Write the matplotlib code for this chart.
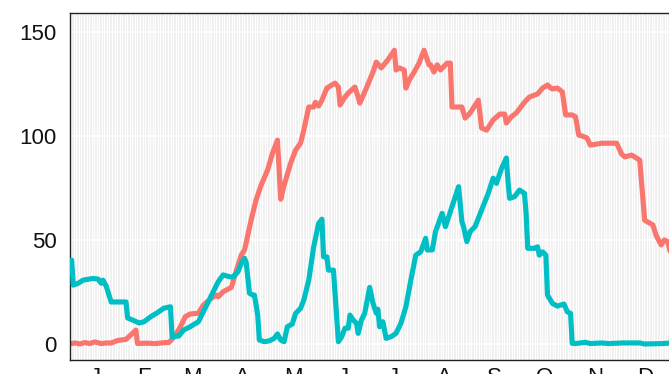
import numpy as np
import matplotlib.pyplot as plt

# day-of-year / value pairs for the two series
red_day = [1, 3, 6, 9, 12, 15, 19, 22, 25, 29, 34, 39, 40, 41, 46, 52, 58,
           60, 61, 64, 67, 70, 73, 78, 81, 86, 89, 90, 93, 98, 101, 104, 106,
           110, 113, 116, 120, 123, 126, 128, 130, 134, 137, 140, 142, 145,
           148, 149, 151, 153, 156, 157, 161, 163, 164, 167, 169, 173, 175,
           176, 180, 184, 186, 189, 193, 197, 198, 200, 203, 204, 206, 209,
           212, 215, 218, 219, 221, 223, 225, 229, 231, 232, 235, 238, 240,
           243, 248, 250, 253, 257, 261, 264, 265, 268, 271, 276, 279, 284,
           287, 290, 292, 293, 296, 299, 301, 305, 307, 309, 311, 314, 316,
           323, 332, 335, 337, 341, 343, 346, 348, 349, 354, 356, 359, 361,
           363, 365]
red_val = [0, 0.3, -0.2, 0.5, 0, 0.8, 0, 0.3, 0.3, 1.5, 2.0, 5.7, 6.5, 0,
           0.2, 0, 0.5, 0.5, 1.3, 4, 8, 12.9, 14.2, 14.6, 18.5, 21.9, 23.3,
           22.5, 24.9, 27, 35, 42.5, 45, 59.4, 69, 76, 83.4, 91.6, 97.8, 69.4,
           76, 86.7, 93, 96.3, 102.6, 113.7, 113.7, 116, 114.2, 117, 122.8,
           123.3, 125.2, 123.3, 114.7, 118.5, 120.4, 123.3, 118.5, 115.6,
           122.8, 130.5, 135.3, 132.5, 136.3, 141, 131.5, 132.5, 131.5, 122.8,
           126.6, 130.5, 134.8, 141, 134, 134, 130.5, 134, 131.5, 134.8,
           134.8, 113.7, 113.7, 113.7, 108.4, 110.8, 117, 103.6, 102.6, 107.5,
           110.3, 110.3, 106, 109, 110.8, 116, 118.5, 120, 122.8, 124.3,
           122.8, 122.4, 122.8, 121, 109.9, 109.9, 109, 100.2, 99.8, 98.8,
           95.4, 96.3, 96.3, 91.1, 89.7, 90.6, 89.7, 88.2, 69, 59.3, 57, 52,
           47.4, 49.8, 49, 42.5]

teal_day = [1, 2, 5, 8, 14, 17, 19, 20, 22, 25, 34, 35, 38, 42, 45, 49, 53,
            57, 61, 62, 66, 69, 73, 78, 81, 86, 90, 93, 97, 99, 102, 104,
            106, 107, 109, 111, 112, 114, 115, 118, 121, 124, 126, 128, 130,
            132, 135, 137, 140, 142, 145, 148, 151, 153, 154, 156, 157, 160,
            163, 165, 167, 169, 170, 172, 174, 175, 177, 179, 182, 184, 186,
            187, 188, 190, 192, 195, 198, 201, 204, 207, 210, 213, 216, 217,
            220, 222, 226, 228, 230, 234, 236, 238, 239, 241, 243, 246, 250,
            254, 257, 259, 262, 265, 266, 267, 270, 273, 276, 277, 278, 282,
            284, 285, 287, 289, 290, 293, 296, 300, 302, 304, 305, 307, 313,
            316, 323, 327, 336, 346, 349, 360, 365]
teal_val = [40.1, 28.1, 29, 30.5, 31.3, 31, 29, 30.5, 27.6, 20, 20, 12.3,
            11.3, 9.9, 10.5, 12.9, 14.8, 17, 17.7, 3.3, 3.6, 6.5, 8.1, 10.5,
            15.3, 23.3, 29.7, 33, 32.1, 32, 34.5, 38.5, 41, 39, 24.2, 23.3,
            23.3, 13.7, 1.7, 0.9, 1.3, 2.5, 4.6, 1.7, 0.9, 8.1, 9.4, 14.5,
            16.9, 20.9, 30.5, 46.5, 57.8, 59.8, 41.7, 41.7, 35.3, 35.3, 0.9,
            3.3, 7.4, 7.4, 13.7, 11.3, 9.8, 4.9, 11.3, 14.6, 27, 19.4, 14.6,
            16.5, 8.1, 10.5, 2.5, 3.3, 4.9, 9.8, 17.7, 30.5, 42.5, 44.1, 50.6,
            45, 45, 53.8, 62.6, 56.2, 61, 70.6, 75.4, 58.6, 56.2, 49, 53.8,
            56.2, 64.2, 72.2, 79.5, 77, 84, 89.2, 78, 69.8, 70.6, 73.8, 72.2,
            62.6, 45.8, 45.8, 46.5, 42.5, 44.1, 42.5, 23.3, 19.3, 18, 19,
            15.3, 14.5, 0.1, 0, 0.6, 0, 0.3, 0, 0.3, 0.3, -0.2, 0, 0.3]

month_labels = ['J', 'F', 'M', 'A', 'M', 'J', 'J', 'A', 'S', 'O', 'N', 'D']
month_len = [31, 28, 31, 30, 31, 30, 31, 31, 30, 31, 30, 31]
y_ticks = [0, 50, 100, 150]

plt.rcParams['font.family'] = ['Liberation Sans', 'DejaVu Sans']

fig = plt.figure(figsize=(6.69, 3.74), dpi=100)
ax = fig.add_axes([70 / 669, 14 / 374, 601 / 669, 347 / 374])

# daily vertical grid, white horizontal grid at the value breaks
for d in np.arange(0, 366):
    ax.axvline(d, color='#ececec', lw=0.55, zorder=0)
for v in y_ticks:
    ax.axhline(v, color='white', lw=1.3, zorder=0.5)

ax.plot(red_day, red_val, color='#F8766D', lw=3.7,
        solid_joinstyle='round', solid_capstyle='round', zorder=2)
ax.plot(teal_day, teal_val, color='#00BFC4', lw=3.7,
        solid_joinstyle='round', solid_capstyle='round', zorder=3)

starts = np.concatenate([[0], np.cumsum(month_len)[:-1]])
mids = starts + np.array(month_len) / 2
ax.set_xticks(mids)
ax.set_xticklabels(month_labels)
ax.set_yticks(y_ticks)
ax.set_xlim(0, 365)
ax.set_ylim(-7.9, 158.9)

ax.tick_params(axis='both', length=0, labelsize=16, colors='#111111')
ax.tick_params(axis='y', pad=9.5)
ax.tick_params(axis='x', pad=5)
for side in ['left', 'bottom', 'top', 'right']:
    ax.spines[side].set_color('#222222')
    ax.spines[side].set_linewidth(1.0)

fig.savefig('out.png', dpi=100)
